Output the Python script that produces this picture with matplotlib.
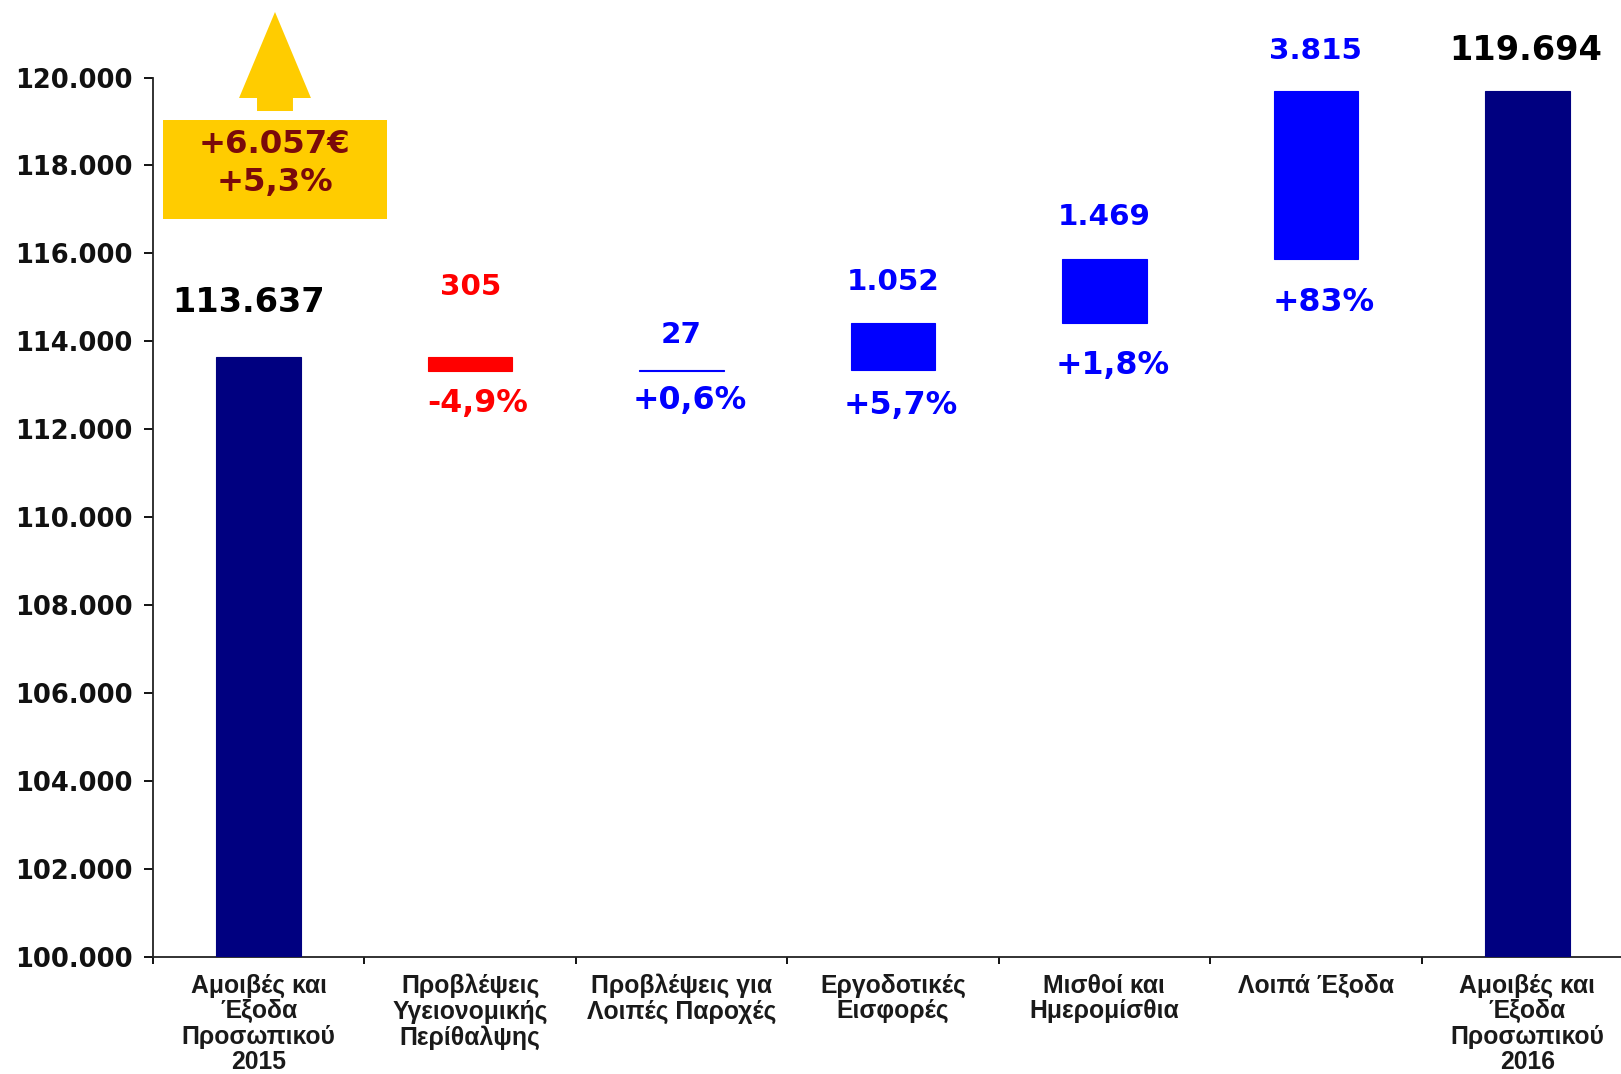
import numpy as np
import matplotlib
matplotlib.use('Agg')
import matplotlib.pyplot as plt
from matplotlib.patches import Rectangle, Polygon
from matplotlib.ticker import FuncFormatter, FixedLocator

# δεδομένα
categories = ['Αμοιβές και\nΈξοδα\nΠροσωπικού\n2015',
              'Προβλέψεις\nΥγειονομικής\nΠερίθαλψης',
              'Προβλέψεις για\nΛοιπές Παροχές',
              'Εργοδοτικές\nΕισφορές',
              'Μισθοί και\nΗμερομίσθια',
              'Λοιπά Έξοδα',
              'Αμοιβές και\nΈξοδα\nΠροσωπικού\n2016']
start_total = 113637
end_total = 119694
changes = [-305, 27, 1052, 1469, 3815]
change_pct = ['-4,9%', '+0,6%', '+5,7%', '+1,8%', '+83%']
callout_lines = ['+6.057€', '+5,3%']

# θέσεις ετικετών (σε pixel)
change_top_px = [70, 35, 41, 42, 40]
pct_below_px = [33, 30, 36, 42, 44]
total_top_px = [55, 40]
total_dx_px = [-10, -2]

NAVY = '#000080'
BLUE = '#0000FF'
RED = '#FF0000'
GOLD = '#FFCC00'
DARKRED = '#7A0A0A'


def fmt(v):
    return f'{int(v):,}'.replace(',', '.')


PX = 0.72  # points per pixel @ 100 dpi

plt.rcParams['font.family'] = ['DejaVu Sans']
fig = plt.figure(figsize=(16.21, 10.74), dpi=100)
ax = fig.add_axes([153/1621, 117/1074, 1480/1621, 879.5/1074])

n = len(categories)
x = np.arange(n)
w = 0.4

# συνολικές στήλες
ax.bar([0, n - 1], [start_total, end_total], width=w, color=NAVY,
       edgecolor=NAVY, linewidth=0.8, zorder=3)

# μεταβολές (waterfall)
level = start_total
for i, d in enumerate(changes):
    xi = i + 1
    lo, hi = (level + d, level) if d < 0 else (level, level + d)
    c = RED if d < 0 else BLUE
    ax.bar(xi, hi - lo, bottom=lo, width=w, color=c, edgecolor=c,
           linewidth=0.8, zorder=3)
    ax.annotate(fmt(abs(d)), (xi, hi), xytext=(0, change_top_px[i]*PX),
                textcoords='offset points', ha='center', va='center',
                fontsize=21.2, fontweight='bold', color=c)
    ax.annotate(change_pct[i], (xi, lo), xytext=(8*PX, -pct_below_px[i]*PX),
                textcoords='offset points', ha='center', va='center',
                fontsize=22.8, fontweight='bold', color=c)
    level += d

for k, (xi, v) in enumerate([(0, start_total), (n - 1, end_total)]):
    ax.annotate(fmt(v), (xi, v), xytext=(total_dx_px[k]*PX, total_top_px[k]*PX),
                textcoords='offset points', ha='center', va='center',
                fontsize=24.2, fontweight='bold', color='black')

ax.set_xlim(-0.5, n - 0.5)
ax.set_ylim(100000, 120000)
ax.set_yticks(np.arange(100000, 120001, 2000))
ax.yaxis.set_major_formatter(FuncFormatter(lambda v, p: fmt(v)))
ax.tick_params(axis='y', labelsize=18.5, length=6.5, width=1.3, pad=8,
               direction='out')
for t in ax.get_yticklabels():
    t.set_fontweight('bold')
    t.set_color('#111111')

ax.set_xticks(x)
ax.set_xticklabels(categories, family=['Liberation Sans', 'DejaVu Sans'],
                   fontsize=17.8, fontweight='bold', color='#1a1a1a',
                   linespacing=1.08)
ax.tick_params(axis='x', which='major', length=0, pad=12)
ax.xaxis.set_minor_locator(FixedLocator(np.arange(-0.5, n, 1.0)))
ax.tick_params(axis='x', which='minor', length=5, width=1.3, direction='out')

for s in ['top', 'right']:
    ax.spines[s].set_visible(False)
for s in ['left', 'bottom']:
    ax.spines[s].set_linewidth(1.3)
    ax.spines[s].set_color('#222222')

# πλαίσιο συνολικής μεταβολής με βέλος
box = Rectangle((-0.453, 116782), 1.06, 2252, facecolor=GOLD,
                edgecolor='none', clip_on=False, zorder=4)
ax.add_patch(box)
ax.text(0.077, 118480, callout_lines[0], ha='center', va='center',
        fontsize=23.3, fontweight='bold', color=DARKRED, zorder=5)
ax.text(0.077, 117620, callout_lines[1], ha='center', va='center',
        fontsize=23.3, fontweight='bold', color=DARKRED, zorder=5)
cx, hw, sw = 0.077, 0.17, 0.085
arrow = Polygon([(cx - sw, 119238), (cx + sw, 119238), (cx + sw, 119534),
                 (cx + hw, 119534), (cx, 121490), (cx - hw, 119534),
                 (cx - sw, 119534)], closed=True, facecolor=GOLD,
                edgecolor='none', clip_on=False, zorder=4)
ax.add_patch(arrow)

fig.savefig('out.png', dpi=100)
